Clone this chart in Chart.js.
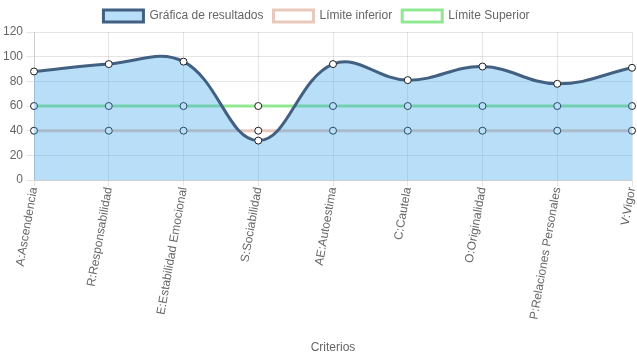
<!DOCTYPE html>
<html>
<head>
<meta charset="utf-8">
<script src="https://cdn.jsdelivr.net/npm/chart.js@4.4.0/dist/chart.umd.min.js"></script>
<style>
  body { margin: 0; background: #fff; }
  #wrap { width: 637px; height: 359px; }
</style>
</head>
<body>
<div id="wrap"><canvas id="grafica"></canvas></div>
<script>
const criterios = ["A:Ascendencia", "R:Responsabilidad", "E:Estabilidad Emocional", "S:Sociabilidad",
  "AE:Autoestima", "C:Cautela", "O:Originalidad", "P:Relaciones Personales", "V:Vigor"];
const resultados = [88, 94, 96, 32, 94, 81, 92, 78, 91];
const limiteInferior = [40, 40, 40, 40, 40, 40, 40, 40, 40];
const limiteSuperior = [60, 60, 60, 60, 60, 60, 60, 60, 60];

Chart.defaults.font.family = "'Liberation Sans', Arial, sans-serif";
Chart.defaults.font.size = 12;
Chart.defaults.color = '#666';

const ctx = document.getElementById('grafica').getContext('2d');
const grafica = new Chart(ctx, {
    type: 'line',
    data: {
        labels: criterios,
        datasets: [{
            label: 'Gráfica de resultados',
            data: resultados,
            borderColor: 'rgb(66,97,130)',
            backgroundColor: 'rgba(54,162,235,0.35)',
            borderWidth: 3,
            fill: 'origin',
            tension: 0.4,
            pointBackgroundColor: '#fff',
            pointBorderColor: 'rgb(30,30,30)',
            pointBorderWidth: 1,
            pointRadius: 3.5
        }, {
            label: 'Límite inferior',
            data: limiteInferior,
            borderColor: 'rgba(230,195,180,0.9)',
            backgroundColor: '#fff',
            borderWidth: 3,
            fill: false,
            pointBackgroundColor: '#fff',
            pointBorderColor: 'rgb(30,30,30)',
            pointBorderWidth: 1,
            pointRadius: 3.5
        }, {
            label: 'Límite Superior',
            data: limiteSuperior,
            borderColor: 'rgba(140,230,140,0.95)',
            backgroundColor: '#fff',
            borderWidth: 3,
            fill: false,
            pointBackgroundColor: '#fff',
            pointBorderColor: 'rgb(30,30,30)',
            pointBorderWidth: 1,
            pointRadius: 3.5
        }]
    },
    options: {
        responsive: true,
        maintainAspectRatio: false,
        animation: false,
        layout: { padding: { right: 4 } },
        plugins: {
            legend: {
                labels: { boxWidth: 40, boxHeight: 12, padding: 10 }
            },
            tooltip: { enabled: false }
        },
        scales: {
            x: {
                title: { display: true, text: 'Criterios', padding: { top: 20, bottom: 4 } },
                grid: { color: 'rgba(0,0,0,0.1)', tickLength: 6 },
                ticks: { maxRotation: 80, minRotation: 80, padding: 0 },
                afterFit: (scale) => { scale.paddingRight = 0; }
            },
            y: {
                min: 0,
                max: 120,
                ticks: { stepSize: 20 },
                grid: { color: 'rgba(0,0,0,0.1)' }
            }
        }
    }
});
</script>
</body>
</html>
